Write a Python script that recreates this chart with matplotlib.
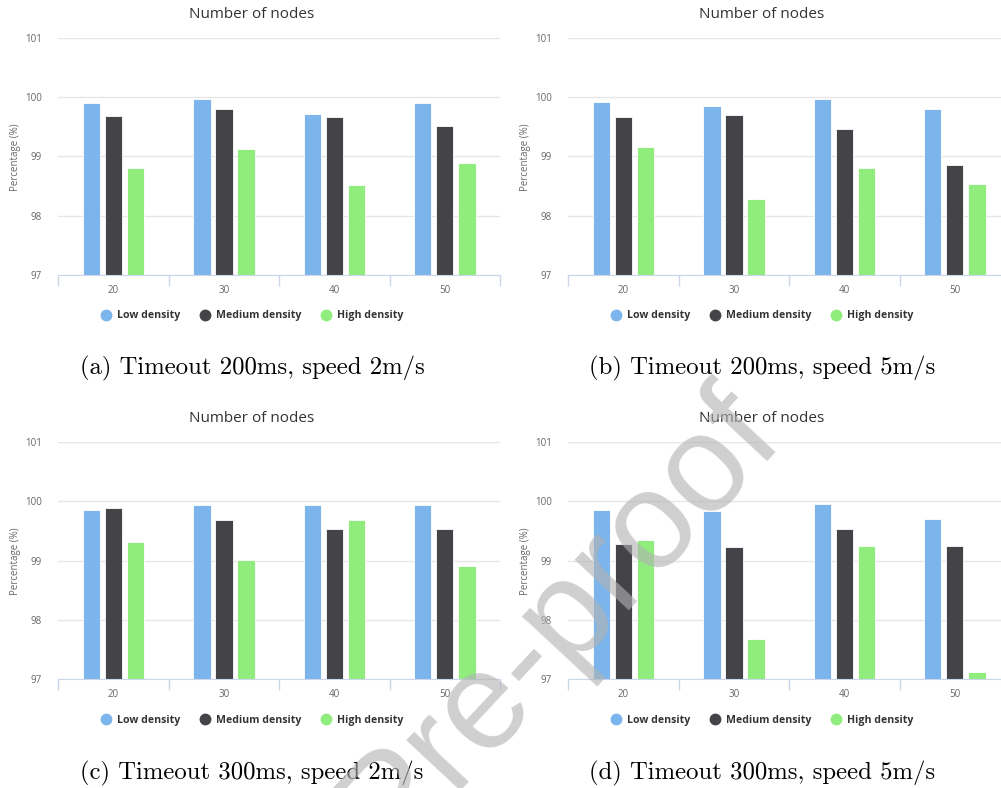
import matplotlib.pyplot as plt
import numpy as np
from matplotlib.lines import Line2D

W, H = 1001, 788

nodes = ["20", "30", "40", "50"]
series = ["Low density", "Medium density", "High density"]
colors = ["#7cb5ec", "#434348", "#90ed7d"]

# (a) timeout 200ms, speed 2m/s
a_low = [99.90, 99.97, 99.72, 99.90]
a_med = [99.68, 99.80, 99.66, 99.51]
a_high = [98.81, 99.13, 98.52, 98.88]

# (b) timeout 200ms, speed 5m/s
b_low = [99.92, 99.85, 99.97, 99.79]
b_med = [99.66, 99.69, 99.46, 98.86]
b_high = [99.15, 98.28, 98.81, 98.53]

# (c) timeout 300ms, speed 2m/s
c_low = [99.86, 99.93, 99.93, 99.93]
c_med = [99.88, 99.69, 99.54, 99.54]
c_high = [99.32, 99.01, 99.69, 98.91]

# (d) timeout 300ms, speed 5m/s
d_low = [99.86, 99.84, 99.96, 99.71]
d_med = [99.28, 99.23, 99.54, 99.25]
d_high = [99.34, 97.68, 99.24, 97.12]

captions = ["(a) Timeout 200ms, speed 2m/s",
            "(b) Timeout 200ms, speed 5m/s",
            "(c) Timeout 300ms, speed 2m/s",
            "(d) Timeout 300ms, speed 5m/s"]

plt.rcParams['font.family'] = ['Open Sans', 'DejaVu Sans']

fig = plt.figure(figsize=(W / 100, H / 100), dpi=100)


def fx(px):
    return px / W


def fy(py):
    return 1 - py / H


def painel(left, top, low, med, high, caption):
    largura, altura = 441.7, 237.3
    ax = fig.add_axes([fx(left), fy(top + altura), largura / W, altura / H])
    x = np.arange(len(nodes))
    for i, vals in enumerate([low, med, high]):
        ax.bar(x + (i - 1) * 0.2, np.array(vals) - 97, bottom=97, width=0.157,
               color=colors[i], edgecolor="white", linewidth=0.6, zorder=3)
    ax.set_xlim(-0.5, 3.5)
    ax.set_ylim(97, 101)
    ax.set_yticks([97, 98, 99, 100, 101])
    ax.yaxis.grid(True, color="#e6e6e6", linewidth=1, zorder=0)
    for s in ["top", "right", "left"]:
        ax.spines[s].set_visible(False)
    ax.spines["bottom"].set_color("#ccd6eb")
    ax.spines["bottom"].set_zorder(4)
    ax.set_xticks([-0.5, 0.5, 1.5, 2.5, 3.5])
    ax.set_xticklabels([])
    ax.set_xticks(x, minor=True)
    ax.set_xticklabels(nodes, minor=True)
    ax.tick_params(axis="x", which="major", length=8, color="#ccd6eb", width=1)
    ax.tick_params(axis="x", which="minor", length=0, pad=7, labelsize=7, labelcolor="#666666")
    ax.tick_params(axis="y", length=0, pad=12, labelsize=7, labelcolor="#666666")

    cx = left + 193.7
    fig.text(fx(cx), fy(top - 23), "Number of nodes", ha="center", va="center",
             fontsize=11, color="#333333")
    fig.text(fx(left - 43), fy(top + altura / 2 + 1), "Percentage (%)", rotation=90,
             ha="center", va="center", fontsize=7, color="#666666")

    handles = [Line2D([], [], marker="o", linestyle="", markersize=7.5,
                      markerfacecolor=c, markeredgecolor=c) for c in colors]
    fig.legend(handles, series, loc="center", bbox_to_anchor=(fx(cx), fy(top + 278)),
               ncol=3, frameon=False, handlelength=1.0, handletextpad=0.5,
               columnspacing=1.9, prop={"size": 7.6, "weight": "bold"},
               labelcolor="#333333")

    fig.text(fx(cx), fy(top + 331), caption, ha="center", va="center",
             fontsize=17.8, family=["cmr10", "DejaVu Serif"], color="black")
    return ax


painel(58.3, 37.7, a_low, a_med, a_high, captions[0])
painel(568.3, 37.7, b_low, b_med, b_high, captions[1])
painel(58.3, 442, c_low, c_med, c_high, captions[2])
painel(568.3, 442, d_low, d_med, d_high, captions[3])

# marca d'agua
fig.text(fx(586), fy(645), "Pre-proof", rotation=47, rotation_mode="anchor",
         ha="center", va="baseline", fontsize=100, family="Liberation Sans",
         color="#b2b2b2", alpha=0.62, zorder=10)

fig.savefig("out.png", dpi=100)
